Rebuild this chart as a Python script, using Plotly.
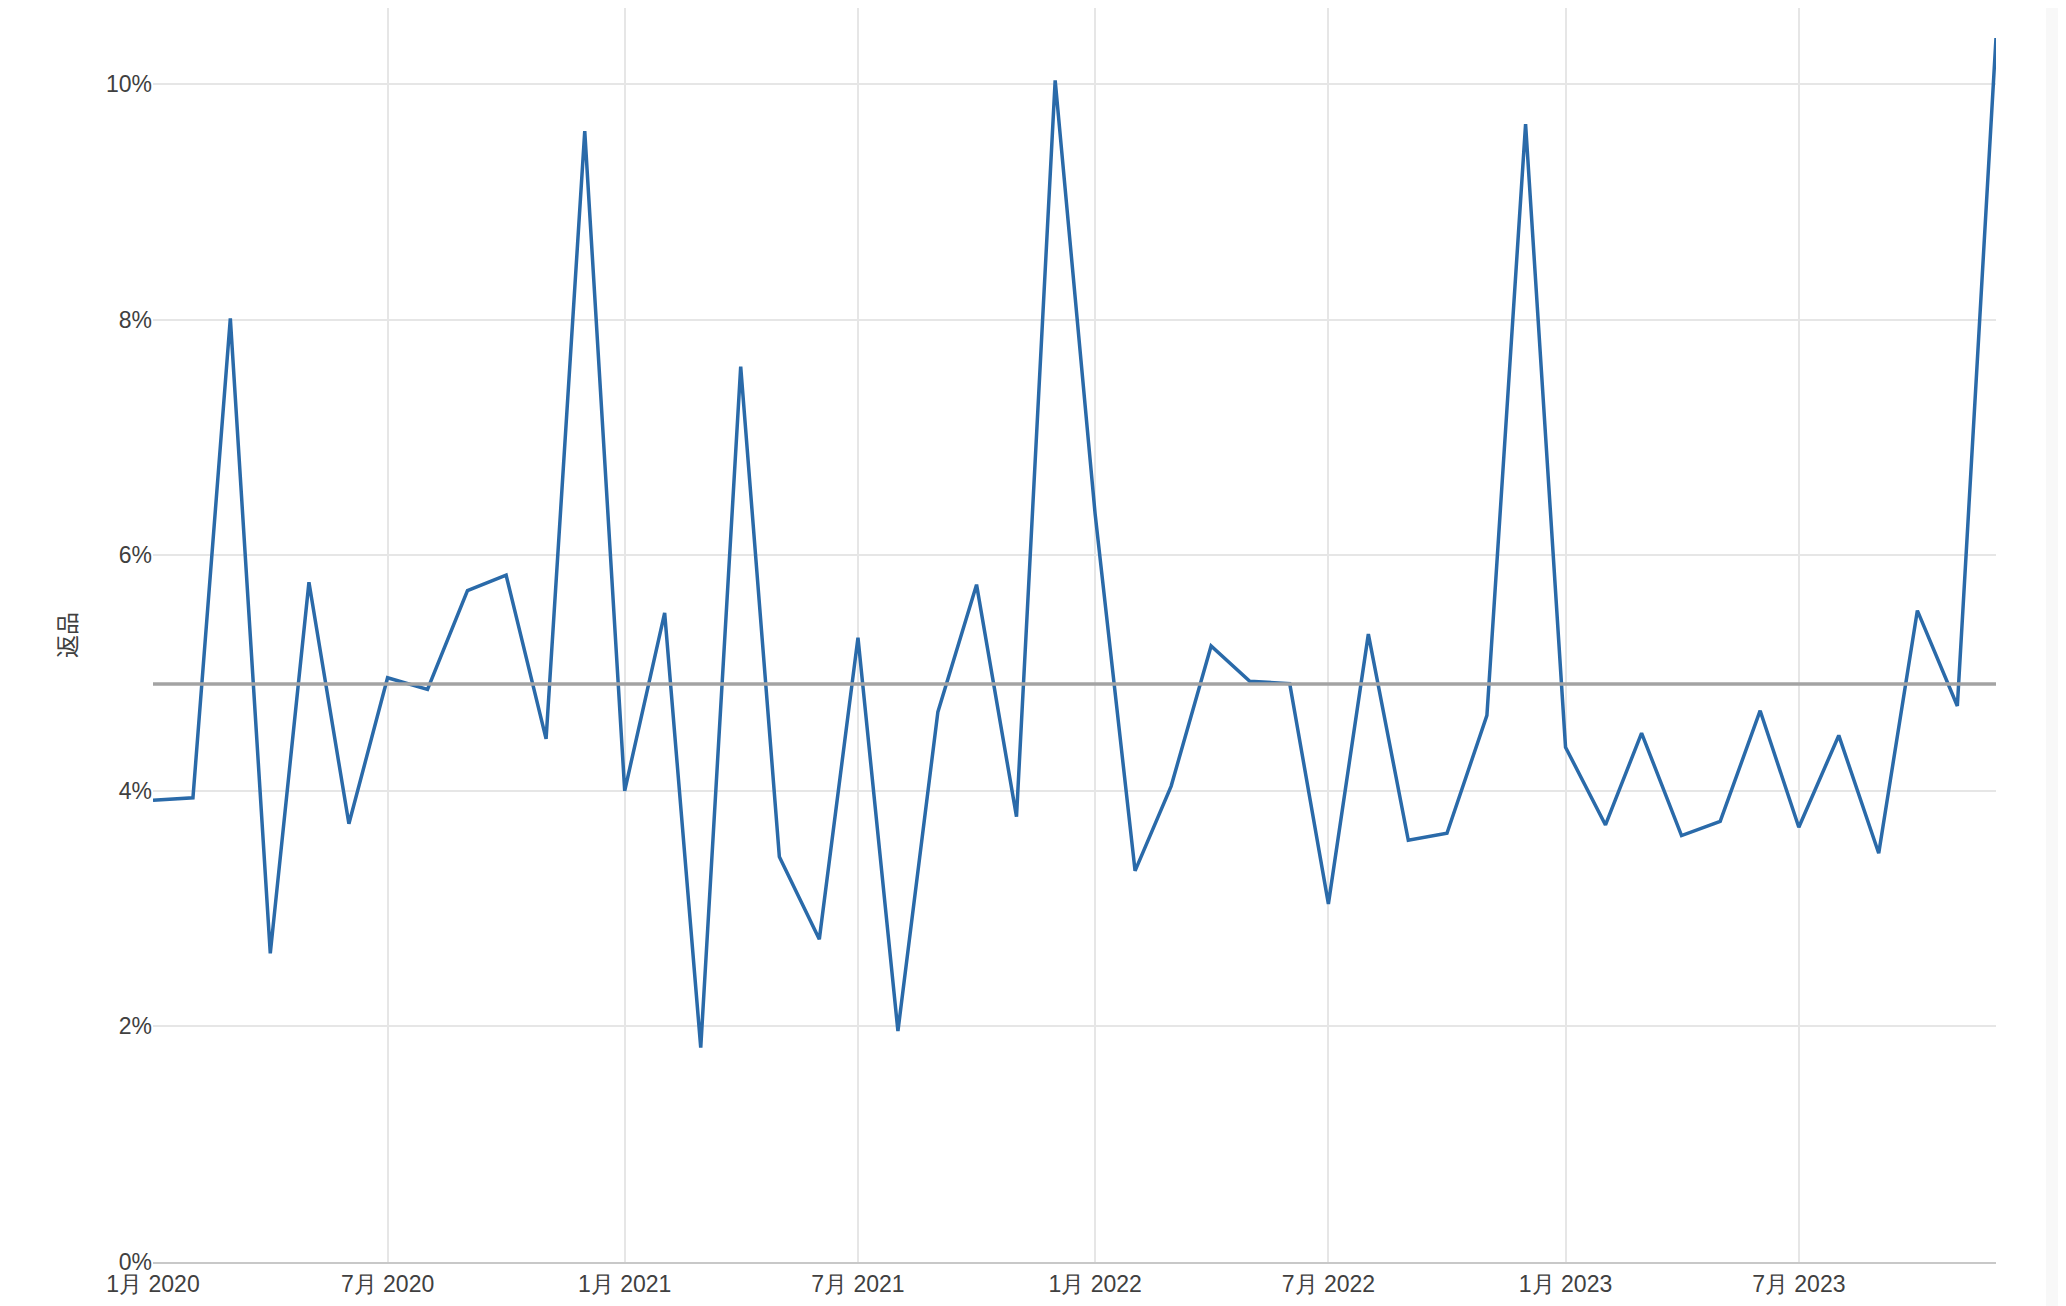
import plotly.graph_objects as go
import pandas as pd

months = pd.date_range("2020-01-01", "2023-12-01", freq="MS")
returns_pct = [
    3.92, 3.94, 8.01, 2.62, 5.77, 3.72, 4.96, 4.86, 5.70, 5.83, 4.44, 9.60,
    4.00, 5.51, 1.82, 7.60, 3.44, 2.74, 5.30, 1.96, 4.67, 5.75, 3.78, 10.03,
    6.35, 3.32, 4.04, 5.23, 4.93, 4.91, 3.04, 5.33, 3.58, 3.64, 4.64, 9.66,
    4.37, 3.71, 4.49, 3.62, 3.74, 4.68, 3.69, 4.47, 3.47, 5.53, 4.72, 10.39,
]
values = [v / 100 for v in returns_pct]
mean_value = sum(values) / len(values)
y_title = "返品"
y_ticks = [0, 0.02, 0.04, 0.06, 0.08, 0.10]

FONT = "Liberation Sans, Arial, sans-serif"

W, H = 2058, 1298
ML, MR, MT, MB = 145, 70, 0, 44
PW = W - ML - MR

fig = go.Figure()
fig.add_trace(go.Scatter(
    x=months, y=values, mode="lines",
    line=dict(color="#2a6aa9", width=3.5),
    hoverinfo="x+y", showlegend=False,
))
fig.add_shape(
    type="line", xref="paper", x0=0, x1=1, yref="y", y0=mean_value, y1=mean_value,
    line=dict(color="#a3a3a3", width=3.5), layer="above",
)
# page scrollbar-like strip on the right
fig.add_shape(
    type="rect", xref="paper", yref="paper",
    x0=(2038 - ML) / PW, x1=(W + 10 - ML) / PW, y0=-0.2, y1=1.2,
    fillcolor="#f8f8f8", line=dict(width=0), layer="above",
)

fig.update_layout(
    width=W, height=H,
    margin=dict(l=ML, r=MR, t=MT, b=MB),
    paper_bgcolor="white", plot_bgcolor="white",
    font=dict(family=FONT, size=23, color="#404040"),
    xaxis=dict(
        type="date",
        range=[months[0], months[-1]],
        dtick="M6", tick0="2020-01-01",
        tickformat="%-m月 %Y",
        showgrid=True, gridcolor="#e6e6e6", gridwidth=1.5,
        showline=True, linecolor="#c8c8c8", linewidth=2,
        ticks="", zeroline=False,
        tickfont=dict(family=FONT, size=23, color="#404040"),
    ),
    yaxis=dict(
        range=[0, 0.10645],
        tickvals=y_ticks,
        tickformat=".0%",
        showgrid=True, gridcolor="#e6e6e6", gridwidth=1.5,
        zeroline=False, showline=False, ticks="",
        title=dict(text=y_title, font=dict(family="Noto Sans CJK JP, " + FONT, size=23, color="#404040"), standoff=22),
        tickfont=dict(family=FONT, size=23, color="#404040"),
    ),
)

fig.write_html("out.html")
